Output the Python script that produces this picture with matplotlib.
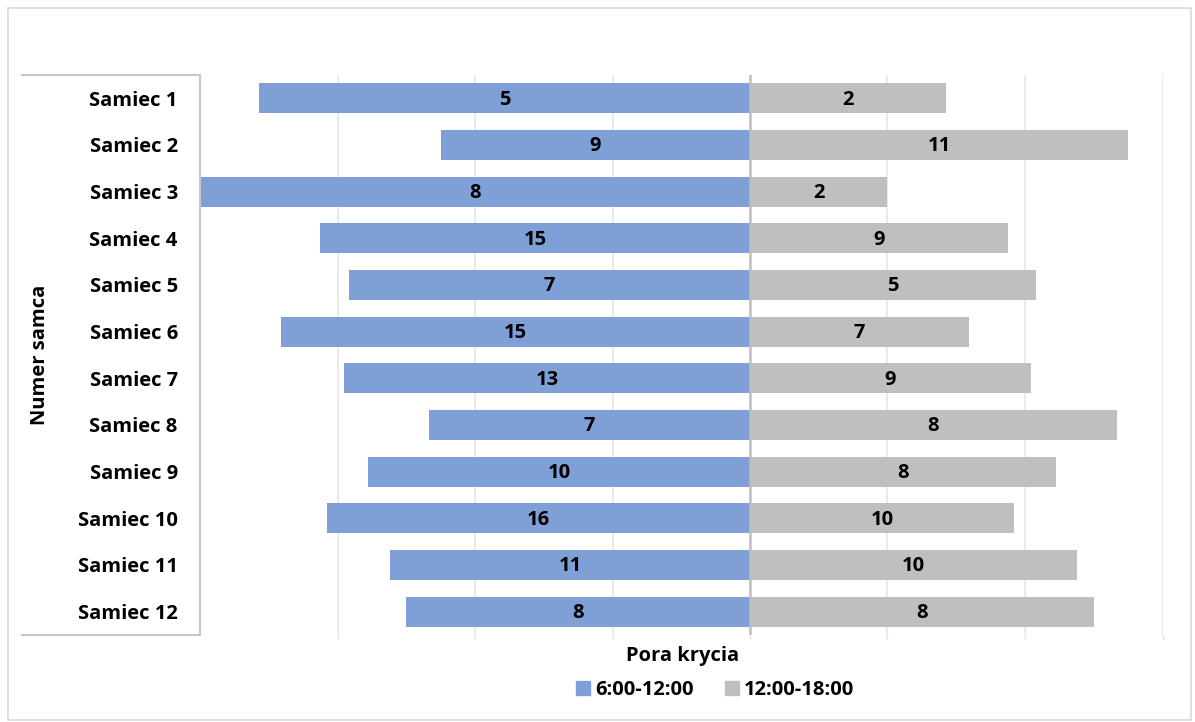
import matplotlib
matplotlib.use("Agg")
import matplotlib.pyplot as plt
from matplotlib.lines import Line2D
from matplotlib.patches import Rectangle, Patch
import numpy as np

categories = ["Samiec 1", "Samiec 2", "Samiec 3", "Samiec 4", "Samiec 5", "Samiec 6",
              "Samiec 7", "Samiec 8", "Samiec 9", "Samiec 10", "Samiec 11", "Samiec 12"]
morning = [5, 9, 8, 15, 7, 15, 13, 7, 10, 16, 11, 8]
afternoon = [2, 11, 2, 9, 5, 7, 9, 8, 8, 10, 10, 8]
series_names = ["6:00-12:00", "12:00-18:00"]
x_title = "Pora krycia"
y_title = "Numer samca"

BLUE = "#7F9FD7"
GRAY = "#BFBFBF"
FONT = "Open Sans"
FS = 14.5

W, H = 1195, 722
fig = plt.figure(figsize=(W / 100, H / 100), dpi=100)

def fx(px):
    return px / W

def fy(py):
    return 1 - py / H

left_px, right_px, top_px, bot_px = 200, 1162.5, 75, 635
ax = fig.add_axes([fx(left_px), fy(bot_px), fx(right_px - left_px), (bot_px - top_px) / H])

m = np.array(morning, float)
a = np.array(afternoon, float)
tot = m + a
pm = m / tot
pa = a / tot
y = np.arange(len(categories))

ax.barh(y, -pm, height=0.64, color=BLUE, zorder=2)
ax.barh(y, pa, height=0.64, color=GRAY, zorder=2)

for i in range(len(categories)):
    ax.text(-pm[i] / 2, y[i] + 0.03, str(morning[i]), ha="center", va="center",
            fontsize=FS, fontweight="bold", family=FONT, color="black", zorder=4)
    ax.text(pa[i] / 2, y[i] + 0.03, str(afternoon[i]), ha="center", va="center",
            fontsize=FS, fontweight="bold", family=FONT, color="black", zorder=4)

ax.set_xlim(-0.8, 0.6)
ax.set_ylim(len(categories) - 0.5, -0.5)
ax.set_xticks(np.arange(-0.6, 0.61, 0.2))
ax.set_xticklabels([])
ax.tick_params(axis="x", length=3, color="#E3E3E3", width=1)
ax.grid(axis="x", color="#E6E6E6", linewidth=1.2, zorder=0)
ax.set_axisbelow(True)
ax.axvline(0, color="#BFBFBF", linewidth=1.8, zorder=3)

ax.set_yticks(y)
ax.set_yticklabels(categories, fontsize=FS, fontweight="bold", family=FONT)
ax.tick_params(axis="y", length=0, pad=16)
for s in ax.spines.values():
    s.set_visible(False)

# category axis box lines
lc = "#C8C8C8"
fig.add_artist(Line2D([fx(200), fx(200)], [fy(75), fy(635)], color=lc, lw=1.5))
fig.add_artist(Line2D([fx(22), fx(200)], [fy(75), fy(75)], color=lc, lw=1.5))
fig.add_artist(Line2D([fx(22), fx(200)], [fy(635), fy(635)], color=lc, lw=1.5))

# figure border
fig.add_artist(Rectangle((fx(8), fy(720)), fx(1191 - 8), (720 - 8) / H,
                         fill=False, edgecolor="#D9D9D9", lw=1.2))

fig.text(fx(683), fy(656), x_title, ha="center", va="center",
         fontsize=FS, fontweight="bold", family=FONT)
fig.text(fx(40), fy(355), y_title, ha="center", va="center", rotation=90,
         fontsize=FS, fontweight="bold", family=FONT)

handles = [Patch(color=BLUE), Patch(color=GRAY)]
leg = fig.legend(handles, series_names, loc="center", bbox_to_anchor=(fx(715), fy(690)),
                 ncol=2, frameon=False, handlelength=0.7, handleheight=0.7,
                 handletextpad=0.25, columnspacing=1.55, borderpad=0, borderaxespad=0,
                 prop={"family": FONT, "weight": "bold", "size": FS})

fig.savefig("out.png", dpi=100)
